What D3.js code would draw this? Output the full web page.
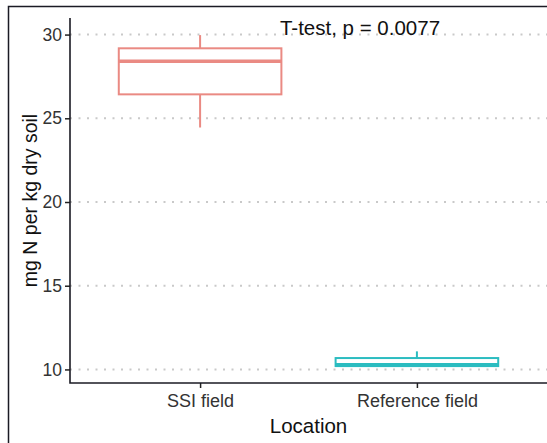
<!DOCTYPE html>
<html>
<head>
<meta charset="utf-8">
<script src="https://cdn.jsdelivr.net/npm/d3@7"></script>
<style>
  body { margin: 0; background: #fff; }
  text { font-family: "Liberation Sans", Arial, sans-serif; }
</style>
</head>
<body>
<svg id="box-chart" width="547" height="443"></svg>
<script>
// data
let categories = ["SSI field", "Reference field"]
let whiskerLow = [24.45, 10.18]
let q1 = [26.43, 10.2]
let median = [28.4, 10.28]
let q3 = [29.18, 10.68]
let whiskerHigh = [29.97, 11.08]
let yTicks = [10, 15, 20, 25, 30]
let boxColors = ["#ea8a83", "#2bbcc0"]

let width = 547, height = 443
let margin = { top: 18, right: 0, bottom: 60, left: 70 }

let svg = d3.select("#box-chart")

let boxes = categories.map(function (c, i) {
  return { cat: c, lo: whiskerLow[i], q1: q1[i], med: median[i], q3: q3[i], hi: whiskerHigh[i], color: boxColors[i] }
})

let x = d3.scalePoint()
    .domain(categories)
    .range([margin.left, width - margin.right])
    .padding(0.6)

let y = d3.scaleLinear()
    .domain([9.19, 30.99])
    .range([height - margin.bottom, margin.top])

let boxWidth = x.step() * 0.75

// outer frame (left + top edges)
svg.append("path")
    .attr("d", `M8.5,443 L8.5,6.5 L547,6.5`)
    .style("fill", "none")
    .style("stroke", "#1b1b24")
    .style("stroke-width", "1.5px")

// dotted horizontal grid
svg.append("g")
    .selectAll("line")
    .data(yTicks)
    .join("line")
    .attr("x1", margin.left)
    .attr("x2", width - margin.right)
    .attr("y1", d => y(d))
    .attr("y2", d => y(d))
    .style("stroke", "#c9c9c9")
    .style("stroke-width", "2px")
    .style("stroke-dasharray", "2,6.5")

let yAxis = svg.append("g")
    .attr("transform", `translate(${margin.left},0)`)
    .call(d3.axisLeft(y).tickValues(yTicks).tickSize(5).tickPadding(3))

let xAxis = svg.append("g")
    .attr("transform", `translate(0,${height - margin.bottom})`)
    .call(d3.axisBottom(x).tickSize(5).tickPadding(6))

// style axes like ggplot classic
svg.selectAll(".domain").remove()
yAxis.selectAll("line").style("stroke", "#222").style("stroke-width", "1.5px")
xAxis.selectAll("line").style("stroke", "#222").style("stroke-width", "1.5px")
yAxis.selectAll("text").style("font-size", "17.5px").style("fill", "#333")
xAxis.selectAll("text").style("font-size", "18px").style("fill", "#333")

svg.append("path")
    .attr("d", `M${margin.left},${margin.top} L${margin.left},${height - margin.bottom} L${width - margin.right},${height - margin.bottom}`)
    .style("fill", "none")
    .style("stroke", "#1b1b24")
    .style("stroke-width", "1.6px")

// boxplots
let g = svg.append("g")
    .selectAll("g")
    .data(boxes)
    .join("g")

g.append("line")
    .attr("x1", d => x(d.cat))
    .attr("x2", d => x(d.cat))
    .attr("y1", d => y(d.hi))
    .attr("y2", d => y(d.q3))
    .style("stroke", d => d.color)
    .style("stroke-width", "2px")

g.append("line")
    .attr("x1", d => x(d.cat))
    .attr("x2", d => x(d.cat))
    .attr("y1", d => y(d.q1))
    .attr("y2", d => y(d.lo))
    .style("stroke", d => d.color)
    .style("stroke-width", "2px")

g.append("rect")
    .attr("x", d => x(d.cat) - boxWidth / 2)
    .attr("width", boxWidth)
    .attr("y", d => y(d.q3))
    .attr("height", d => y(d.q1) - y(d.q3))
    .style("fill", "#fff")
    .style("stroke", d => d.color)
    .style("stroke-width", "2px")

g.append("line")
    .attr("x1", d => x(d.cat) - boxWidth / 2)
    .attr("x2", d => x(d.cat) + boxWidth / 2)
    .attr("y1", d => y(d.med))
    .attr("y2", d => y(d.med))
    .style("stroke", d => d.color)
    .style("stroke-width", "3.5px")

// test annotation
svg.append("text")
    .attr("text-anchor", "middle")
    .attr("x", 360)
    .attr("y", 35)
    .style("font-size", "20.5px")
    .style("fill", "#111")
    .text("T-test, p = 0.0077")

// axis titles
svg.append("text")
    .attr("text-anchor", "middle")
    .attr("transform", `translate(37,${(margin.top + height - margin.bottom) / 2}) rotate(-90)`)
    .style("font-size", "19.5px")
    .style("fill", "#111")
    .text("mg N per kg dry soil")

svg.append("text")
    .attr("text-anchor", "middle")
    .attr("x", (margin.left + width - margin.right) / 2)
    .attr("y", 433)
    .style("font-size", "20.5px")
    .style("fill", "#111")
    .text("Location")
</script>
</body>
</html>
